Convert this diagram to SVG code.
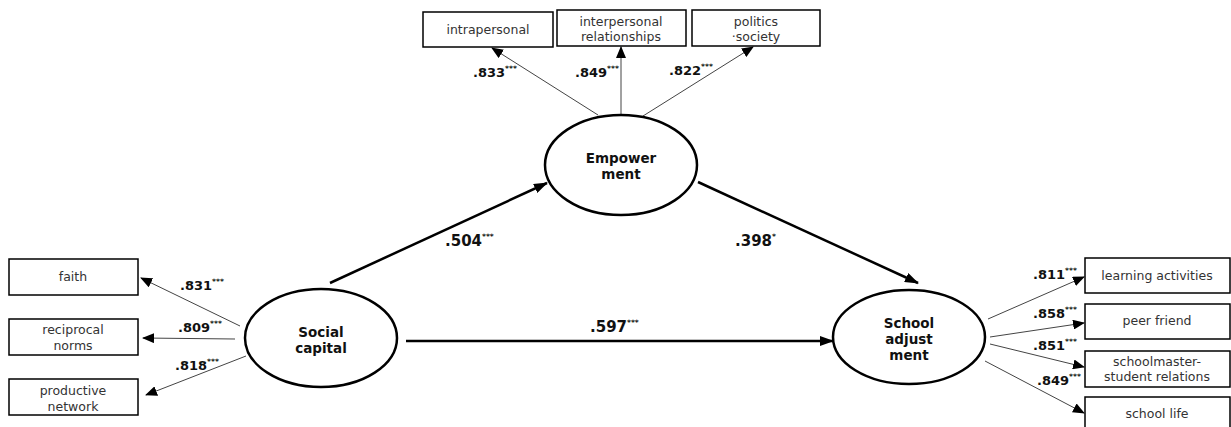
<svg xmlns="http://www.w3.org/2000/svg" width="1231" height="427" viewBox="0 0 1231 427">
<style>
.box{fill:#fff;stroke:#000;stroke-width:1.5}
.lat{fill:#fff;stroke:#000;stroke-width:2.5}
.bt{font-family:"DejaVu Sans",sans-serif;font-size:12.5px;fill:#333;text-anchor:middle}
.lt{font-family:"DejaVu Sans",sans-serif;font-size:13.5px;font-weight:bold;fill:#111;text-anchor:middle}
.ld{font-family:"DejaVu Sans",sans-serif;font-size:13px;font-weight:bold;fill:#111}
.lb{font-family:"DejaVu Sans",sans-serif;font-size:15px;font-weight:bold;fill:#111}
.st{font-size:7.5px}
.thin{stroke:#444;stroke-width:1;fill:none;marker-end:url(#ah)}
.thick{stroke:#000;stroke-width:2.5;fill:none;marker-end:url(#ahb)}
</style>
<defs>
<marker id="ah" markerUnits="userSpaceOnUse" markerWidth="12" markerHeight="10" refX="11" refY="5" orient="auto">
<path d="M0,0 L12,5 L0,10 Z" fill="#000"/>
</marker>
<marker id="ahb" markerUnits="userSpaceOnUse" markerWidth="14" markerHeight="10" refX="13" refY="5" orient="auto">
<path d="M0,0 L14,5 L0,10 Z" fill="#000"/>
</marker>
</defs>
<rect width="1231" height="427" fill="#fff"/>

<g id="connectors">
<line class="thin" x1="598" y1="115" x2="492" y2="48"/>
<line class="thin" x1="621" y1="115" x2="621" y2="47"/>
<line class="thin" x1="643" y1="116" x2="753" y2="47"/>
<line class="thin" x1="240" y1="326" x2="141" y2="278"/>
<line class="thin" x1="235" y1="339" x2="143" y2="338"/>
<line class="thin" x1="246" y1="356" x2="146" y2="395"/>
<line class="thin" x1="988" y1="319" x2="1084" y2="277"/>
<line class="thin" x1="990" y1="337" x2="1084" y2="323"/>
<line class="thin" x1="990" y1="344" x2="1084" y2="367"/>
<line class="thin" x1="985" y1="361" x2="1084" y2="413"/>
<line class="thick" x1="330" y1="283" x2="547" y2="183"/>
<line class="thick" x1="698" y1="182" x2="918" y2="283"/>
<line class="thick" x1="406" y1="341" x2="833" y2="341"/>
</g>

<g id="labels">
<text class="ld" x="473" y="77">.833<tspan class="st" dy="-6">***</tspan></text>
<text class="ld" x="575" y="77">.849<tspan class="st" dy="-6">***</tspan></text>
<text class="ld" x="669" y="75">.822<tspan class="st" dy="-6">***</tspan></text>
<text class="ld" x="180" y="290">.831<tspan class="st" dy="-6">***</tspan></text>
<text class="ld" x="178" y="332">.809<tspan class="st" dy="-6">***</tspan></text>
<text class="ld" x="175" y="370">.818<tspan class="st" dy="-6">***</tspan></text>
<text class="ld" x="1033" y="279">.811<tspan class="st" dy="-6">***</tspan></text>
<text class="ld" x="1033" y="318">.858<tspan class="st" dy="-6">***</tspan></text>
<text class="ld" x="1033" y="350">.851<tspan class="st" dy="-6">***</tspan></text>
<text class="ld" x="1037" y="385">.849<tspan class="st" dy="-6">***</tspan></text>
<text class="lb" x="445" y="246">.504<tspan class="st" dy="-7">***</tspan></text>
<text class="lb" x="735" y="246">.398<tspan class="st" dy="-7">*</tspan></text>
<text class="lb" x="590" y="332">.597<tspan class="st" dy="-7">***</tspan></text>
</g>

<g id="intrapersonal">
<rect class="box" x="423" y="12" width="130" height="35"/>
<text class="bt" x="488" y="34">intrapersonal</text>
</g>
<g id="interpersonal">
<rect class="box" x="557" y="10" width="129" height="36"/>
<text class="bt" x="621" y="26">interpersonal</text>
<text class="bt" x="621" y="41">relationships</text>
</g>
<g id="politics">
<rect class="box" x="692" y="10" width="128" height="36"/>
<text class="bt" x="756" y="26">politics</text>
<text class="bt" x="756" y="41">·society</text>
</g>

<g id="faith">
<rect class="box" x="9" y="259" width="129" height="36"/>
<text class="bt" x="73" y="281">faith</text>
</g>
<g id="reciprocal">
<rect class="box" x="9" y="319" width="129" height="36"/>
<text class="bt" x="73" y="334">reciprocal</text>
<text class="bt" x="73" y="350">norms</text>
</g>
<g id="productive">
<rect class="box" x="9" y="379" width="129" height="36"/>
<text class="bt" x="73" y="395">productive</text>
<text class="bt" x="73" y="411">network</text>
</g>

<g id="learning">
<rect class="box" x="1085" y="258" width="145" height="35"/>
<text class="bt" x="1157" y="280">learning activities</text>
</g>
<g id="peer">
<rect class="box" x="1085" y="304" width="145" height="35"/>
<text class="bt" x="1157" y="325">peer friend</text>
</g>
<g id="schoolmaster">
<rect class="box" x="1085" y="351" width="145" height="36"/>
<text class="bt" x="1157" y="366">schoolmaster-</text>
<text class="bt" x="1157" y="381">student relations</text>
</g>
<g id="schoollife">
<rect class="box" x="1085" y="397" width="145" height="36"/>
<text class="bt" x="1157" y="418">school life</text>
</g>

<g id="empowerment">
<ellipse class="lat" cx="621" cy="165" rx="76" ry="50"/>
<text class="lt" x="621" y="163">Empower</text>
<text class="lt" x="621" y="179">ment</text>
</g>
<g id="social">
<ellipse class="lat" cx="321" cy="338" rx="76" ry="49"/>
<text class="lt" x="321" y="337">Social</text>
<text class="lt" x="321" y="353">capital</text>
</g>
<g id="school">
<ellipse class="lat" cx="909" cy="337" rx="76" ry="47"/>
<text class="lt" x="909" y="328">School</text>
<text class="lt" x="909" y="344">adjust</text>
<text class="lt" x="909" y="360">ment</text>
</g>
</svg>
